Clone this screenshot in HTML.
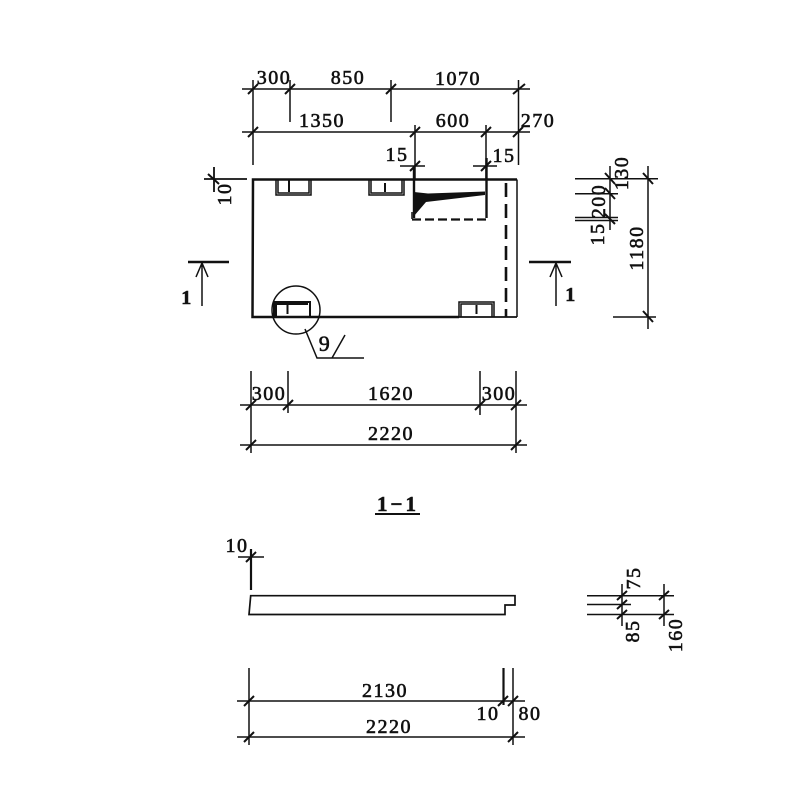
<!DOCTYPE html>
<html><head><meta charset="utf-8"><style>
html,body{margin:0;padding:0;background:#fff}
svg{display:block}
text{font-family:"Liberation Serif",serif;font-size:20px;letter-spacing:1.5px;fill:#111;stroke:#111;stroke-width:.6px;text-anchor:middle}
</style></head><body>
<svg width="800" height="800" viewBox="0 0 800 800" fill="none" stroke="#111" stroke-width="1.5">
<!-- top dimensions -->
<path d="M242 89H530M242 132H530"/>
<path d="M253 80V165M290 80V122M391 80V122M518.500 80V165M415 125V180M486 125V180"/>
<path d="M400 166H425M473 166H497"/>
<path stroke-width="1.800" d="M204 179H247M214 167V192"/>
<g stroke-width="2">
<path d="M248 94L258 84M285 94L295 84M386 94L396 84M513 94L525 84M248 137L258 127M410 137L420 127M481 137L491 127M513 137L523 127M410 171L420 161M481 171L491 161M208 174L219 184"/>
</g>
<!-- plate -->
<path stroke-width="2.500" d="M517 179.500H253L252.500 317H459"/>
<path stroke-width="1.800" d="M459 317H517"/>
<path stroke-width="1.500" d="M517 179.500V317"/>
<path d="M276 180V195H311V180M278 180V193H309V180M369 180V195H404V180M371 180V193H402V180M459 317V302H494V317M461 317V304H492V317"/>
<path stroke-width="2" d="M274 317V302H310V317M276 317V304H308"/>
<path stroke-width="2" d="M289 180V192M385 183V192M287.500 305V314M476.500 305V314"/>
<path stroke-width="2.600" stroke-dasharray="14 7" d="M506 183V317"/>
<!-- hole -->
<path stroke-width="2.400" d="M414 166V218M486.500 158V218"/>
<path stroke-width="2.200" stroke-dasharray="9 4" d="M412 219.500H488"/>
<path fill="#111" stroke="none" d="M414 192L428 193.500L485 191.500V195L426 202L414 216Z"/>
<path stroke-width="1.500" d="M412 212V219"/>
<!-- section marks -->
<path stroke-width="2.500" d="M188 262H229M529 262H571"/>
<path d="M202 262V306M556 262V306M196 277L202 263L208 277M550 277L556 263L562 277"/>
<!-- detail callout -->
<circle cx="296" cy="310" r="24"/>
<path d="M305 329L317 358H364M332 358L345 335"/>
<!-- right dimensions -->
<path d="M610 166V230M648 166V329M575 178.700H658M575 193.700H618M575 217.500H618M575 220.500H618M613 317H656"/>
<path stroke-width="2" d="M605 173L615 184M605 188L615 199M605 214L615 224M643 173L653 184M643 311L653 322"/>
<!-- bottom plan dimensions -->
<path d="M240 405H527M240 445H527M251 371V453M288 371V413M480 371V415M516 371V453"/>
<path stroke-width="2" d="M246 410L256 400M283 410L293 400M475 410L485 400M511 410L521 400M246 450L256 440M511 450L521 440"/>
<!-- title -->
<path stroke-width="2" d="M375 514H420"/>
<!-- section -->
<path stroke-width="1.700" d="M250.700 595.700H515V605H505V614.500H249Z"/>
<path stroke-width="2.200" d="M251 549V590"/>
<path d="M238 557H264"/>
<path stroke-width="2" d="M246 562L256 552"/>
<!-- section right dims -->
<path d="M587 595.700H674M587 604.500H631M587 614.500H674M622 584V626M664 584V626"/>
<path stroke-width="2" d="M617 600L627 591M617 609L627 600M617 619L627 610M659 600L669 591M659 619L669 610"/>
<!-- section bottom dims -->
<path d="M237 701H525M237 737H525M249 668V745M513 668V745"/>
<path stroke-width="2.200" d="M503.500 668V705"/>
<path stroke-width="2" d="M244 706L254 696M498 706L508 696M508 706L518 696M244 742L254 732M508 742L518 732"/>
<g stroke="#111">
<text x="274" y="84">300</text>
<text x="348" y="84">850</text>
<text x="458" y="85">1070</text>
<text x="322" y="127">1350</text>
<text x="453" y="127">600</text>
<text x="538" y="127">270</text>
<text x="397" y="161">15</text>
<text x="504" y="162">15</text>
<text x="187" y="304" style="font-weight:bold">1</text>
<text x="571" y="301" style="font-weight:bold">1</text>
<text x="325" y="351" style="font-size:22px">9</text>
<text x="269" y="400">300</text>
<text x="391" y="400">1620</text>
<text x="499" y="400">300</text>
<text x="391" y="440">2220</text>
<text x="398" y="511" style="font-weight:bold;font-size:21px;letter-spacing:3px">1−1</text>
<text x="237" y="552">10</text>
<text x="385" y="697">2130</text>
<text x="389" y="733">2220</text>
<text x="488" y="720">10</text>
<text x="530" y="720">80</text>
<text transform="translate(231 194) rotate(-90)">10</text>
<text transform="translate(628 173) rotate(-90)">130</text>
<text transform="translate(605 201) rotate(-90)">200</text>
<text transform="translate(604 234) rotate(-90)">15</text>
<text transform="translate(643 248) rotate(-90)">1180</text>
<text transform="translate(640 578) rotate(-90)">75</text>
<text transform="translate(639 631) rotate(-90)">85</text>
<text transform="translate(682 635) rotate(-90)">160</text>
</g>
</svg>
</body></html>
